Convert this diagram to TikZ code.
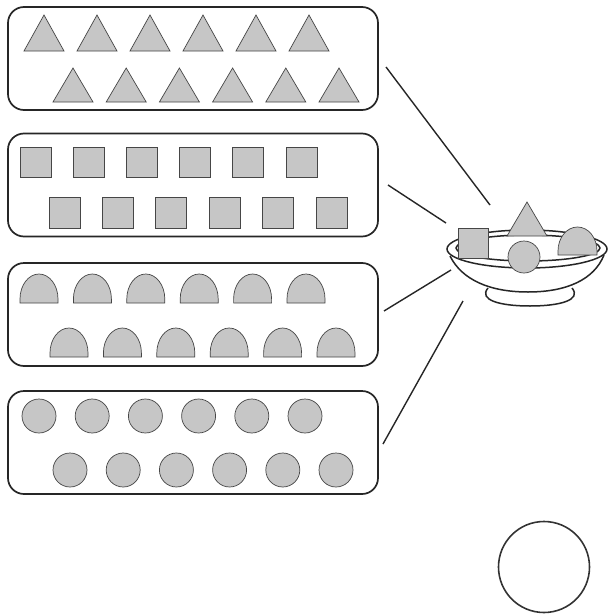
\documentclass[tikz,border=0pt]{standalone}
\begin{document}
\begin{tikzpicture}[x=1pt,y=-1pt,
  box/.style={draw=black!85, line width=1.7pt, rounded corners=16pt, minimum width=370pt, minimum height=103pt, inner sep=0pt},
  shp/.style={fill=gray!45, draw=gray!55!black, line width=0.7pt},
  conn/.style={draw=black!85, line width=1.4pt},
  bowl/.style={draw=black!85, line width=1.5pt}]
\useasboundingbox (0,0) rectangle (608,616);
\fill[white] (0,0) rectangle (608,616);
% boxes
\node[box] (b1) at (193,58.5) {};
\node[box] (b2) at (193,185) {};
\node[box] (b3) at (193,314.5) {};
\node[box] (b4) at (193,442.5) {};
% triangles
\foreach \i in {0,...,5}{
  \draw[shp] ({44+53*\i-20},51) -- ({44+53*\i},15) -- ({44+53*\i+20},51) -- cycle;
  \draw[shp] ({73+53.2*\i-20},102) -- ({73+53.2*\i},68) -- ({73+53.2*\i+20},102) -- cycle;
}
% squares
\foreach \i in {0,...,5}{
  \draw[shp] ({20+53.2*\i},147) rectangle ({51+53.2*\i},177);
  \draw[shp] ({49+53.4*\i},197) rectangle ({80+53.4*\i},228);
}
% domes
\foreach \b/\x in {303/39,303/92.4,303/145.8,303/199.2,303/252.6,303/306,
                   357/69,357/122.4,357/175.8,357/229.2,357/282.6,357/336}{
  \draw[shp] ({\x-19},\b) -- ({\x-19},\b-4) arc[start angle=180, end angle=0, x radius=19, y radius=-25] -- ({\x+19},\b) -- cycle;
}
% circles
\foreach \i in {0,...,5}{
  \draw[shp] ({39+53.2*\i},416) circle (17);
  \draw[shp] ({70+53.2*\i},470) circle (17);
}
% bowl
\draw[bowl,fill=white] (488,288) .. controls (478,300) and (500,306) .. (530,306)
   .. controls (560,306) and (582,300) .. (572,288);
\draw[bowl,fill=white] (450,256) .. controls (462,280) and (490,292) .. (528,292)
   .. controls (566,292) and (594,280) .. (604,255);
\draw[bowl,fill=white] (527,249) ellipse [x radius=80, y radius=19];
\draw[bowl] (528,248) ellipse [x radius=72, y radius=13];
% shapes in bowl
\draw[shp] (458,228) rectangle (488,258);
\draw[shp] (507,236) -- (527,202) -- (547,236) -- cycle;
\draw[shp] (558,255) -- (558,251) arc[start angle=180, end angle=0, x radius=19.5, y radius=-24] -- (597,255) -- cycle;
\draw[shp] (524,257) circle (16);
% connectors
\coordinate (c1a) at (386,67);  \coordinate (c1b) at (490,205);
\coordinate (c2a) at (388,185); \coordinate (c2b) at (446,223);
\coordinate (c3a) at (384,311); \coordinate (c3b) at (451,270);
\coordinate (c4a) at (383,444); \coordinate (c4b) at (463,301);
\draw[conn] (c1a) -- (c1b);
\draw[conn] (c2a) -- (c2b);
\draw[conn] (c3a) -- (c3b);
\draw[conn] (c4a) -- (c4b);
% empty circle
\node[draw=black!80, line width=1.6pt, circle, minimum size=91pt, inner sep=0pt] (empty) at (544,567) {};
\end{tikzpicture}
\end{document}
